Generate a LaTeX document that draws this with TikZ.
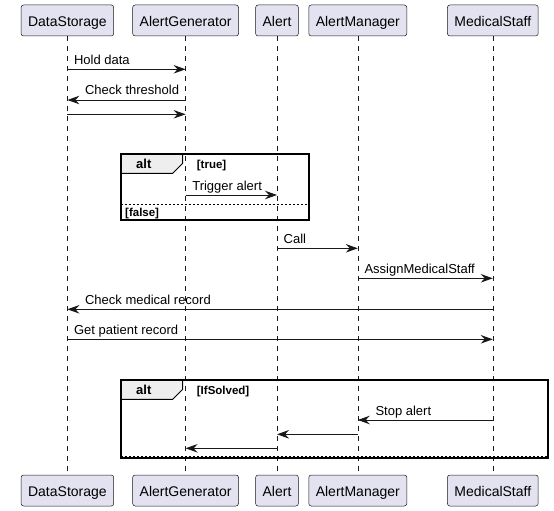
\documentclass[tikz,border=0pt]{standalone}
\usepackage{fontspec}
\setmainfont{Liberation Sans}
\usetikzlibrary{arrows.meta}
\definecolor{boxfill}{HTML}{E2E2F0}
\definecolor{lineblack}{HTML}{181818}
\definecolor{tabfill}{HTML}{EEEEEE}
\newcommand\tabWidth{62}
\newcommand\labelGap{5}

\begin{document}
\begin{tikzpicture}[x=1pt, y=-1pt,
    participant/.style={draw=lineblack, line width=0.5pt, fill=boxfill, rounded corners=2.5pt, minimum height=31pt, inner xsep=7pt, text height=15pt, text depth=3pt, font=\fontsize{14}{16}\selectfont},
    lifeline/.style={lineblack, line width=0.5pt, dash pattern=on 5pt off 5pt},
    msg/.style={lineblack, line width=1pt, -{Stealth[length=12pt, width=8.5pt, inset=4pt]}},
    msglabel/.style={anchor=base west, inner sep=0pt, font=\fontsize{13}{15}\selectfont},
    frame/.style={black, line width=1.7pt},
    separator/.style={black, line width=0.8pt, dash pattern=on 2pt off 2pt},
    guard/.style={anchor=base west, inner sep=0pt, font=\bfseries\fontsize{11.5}{13}\selectfont}]
    \useasboundingbox (0,0) rectangle (554,511);
    \def\altFrame[#1,#2,#3,#4,#5,#6]{% An alt frame. Arguments are name, left, top, right, bottom and guard
        \draw [line width=1pt, fill=tabfill] (#2,#3) -- (#2+\tabWidth,#3) -- (#2+\tabWidth,#3+9.3) -- (#2+\tabWidth-10,#3+19.3) -- (#2,#3+19.3) -- cycle;
        \draw [frame] (#2,#3) rectangle (#4,#5);
        \node [guard, font=\bfseries\fontsize{13}{15}\selectfont] (#1-tab) at (#2+15.3,#3+14.3) {alt};
        \node [guard] (#1-guard) at (#2+76,#3+14) {#6};
    }
    % Draw the participants and their lifelines
    \foreach \n/\x/\name in {ds/67.4/DataStorage, ag/185.6/AlertGenerator, al/277/Alert, am/357.8/AlertManager, ms/492.8/MedicalStaff} {
        \node [participant] (\n-top) at (\x,20.5) {\name};
        \node [participant] (\n-bot) at (\x,490.5) {\name};
        \draw [lifeline] (\n-top) -- (\n-bot);
    }
    % Draw the alt frames
    \altFrame[alt1,120.7,154,309.3,220,{[true]}];
    \draw [separator] (120.7,204) -- (309.3,204);
    \node [guard] (alt1-else) at (125,216) {[false]};
    \altFrame[alt2,120.7,380,548,458,{[IfSolved]}];
    \draw [separator] (120.7,456) -- (548,456);
    % Messages going right
    \foreach \src/\dst/\y/\txt [count=\i] in {ds/ag/69.3/Hold data, ds/ag/114.3/, ag/al/195/Trigger alert, al/am/248.3/Call, am/ms/278.3/AssignMedicalStaff, ds/ms/339.3/Get patient record} {
        \draw [msg] (\src-top |- 0,\y) -- (\dst-top |- 0,\y);
        \node [msglabel, xshift=6.5pt, yshift=\labelGap pt] (right\i) at (\src-top |- 0,\y) {\txt};
    }
    % Messages going left
    \foreach \src/\dst/\y/\txt [count=\i] in {ag/ds/100/Check threshold, ms/ds/309.3/Check medical record, ms/am/420/Stop alert, am/al/434.3/, al/ag/448.3/} {
        \draw [msg] (\src-top |- 0,\y) -- (\dst-top |- 0,\y);
        \node [msglabel, xshift=17.5pt, yshift=\labelGap pt] (left\i) at (\dst-top |- 0,\y) {\txt};
    }
\end{tikzpicture}
\end{document}
